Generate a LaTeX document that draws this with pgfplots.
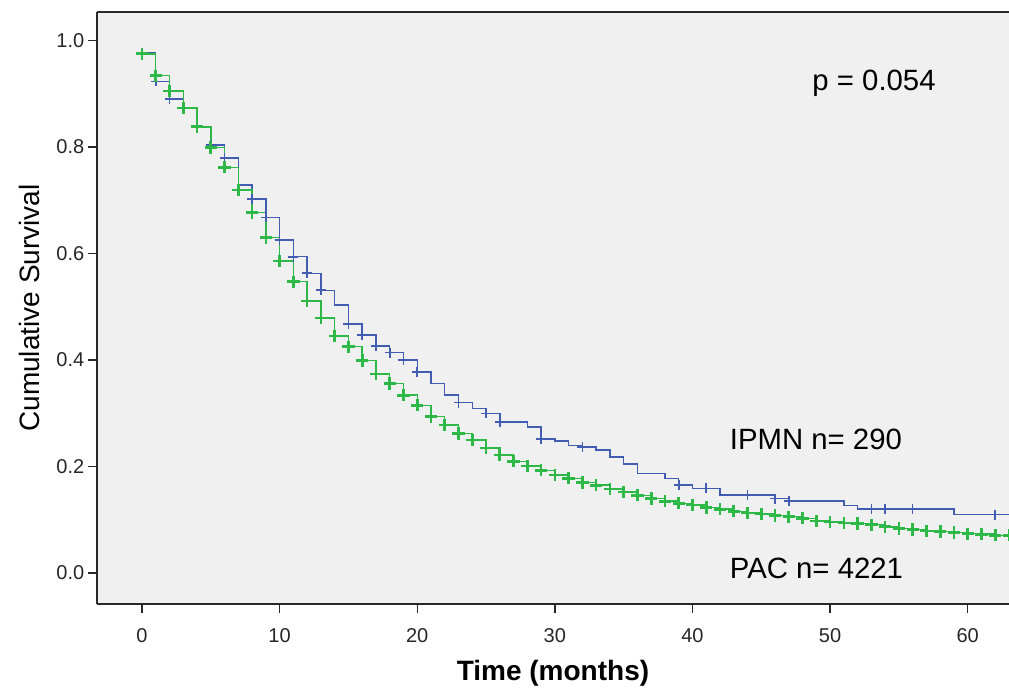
\documentclass[border=0pt]{standalone}
\usepackage{fontspec}
\setmainfont{Liberation Sans}
\usepackage{pgfplots}
\pgfplotsset{compat=1.18}
\usepackage{pgfplotstable}
\definecolor{bgc}{RGB}{240,240,240}
\definecolor{ipmn}{RGB}{66,92,178}
\definecolor{pac}{RGB}{46,184,72}
\definecolor{axc}{RGB}{40,40,40}

\pgfplotstableread{
t s
0 0.977
1 0.923
2 0.890
3 0.873
4 0.838
5 0.804
6 0.779
7 0.729
8 0.702
9 0.668
10 0.625
11 0.594
12 0.563
13 0.531
14 0.503
15 0.468
16 0.447
17 0.426
18 0.414
19 0.400
20 0.378
21 0.356
22 0.334
23 0.320
24 0.309
25 0.300
26 0.284
28 0.274
29 0.252
30 0.248
31 0.240
32 0.237
33 0.231
34 0.218
35 0.205
36 0.187
38 0.178
39 0.165
40 0.159
42 0.147
46 0.140
47 0.135
51 0.127
52 0.120
59 0.110
63 0.110
}\ipmntab

\pgfplotstableread{
t s
0 0.977
1 0.923
2 0.890
4 0.838
5 0.804
6 0.779
8 0.702
9 0.668
10 0.625
11 0.594
12 0.563
13 0.531
15 0.468
16 0.447
17 0.426
18 0.414
19 0.400
20 0.378
23 0.320
25 0.300
26 0.284
29 0.252
32 0.237
39 0.165
41 0.159
44 0.147
46 0.140
47 0.135
53 0.120
54 0.120
56 0.120
62 0.110
}\ipmncens

\pgfplotstableread{
t s
0 0.975
1 0.934
2 0.905
3 0.873
4 0.838
5 0.799
6 0.762
7 0.719
8 0.677
9 0.630
10 0.586
11 0.547
12 0.511
13 0.479
14 0.445
15 0.425
16 0.399
17 0.374
18 0.356
19 0.334
20 0.315
21 0.294
22 0.278
23 0.262
24 0.250
25 0.235
26 0.222
27 0.210
28 0.201
29 0.193
30 0.184
31 0.178
32 0.170
33 0.165
34 0.158
35 0.152
36 0.146
37 0.140
38 0.135
39 0.131
40 0.128
41 0.123
42 0.120
43 0.116
44 0.113
45 0.111
46 0.108
47 0.106
48 0.103
49 0.098
50 0.096
51 0.094
52 0.093
53 0.091
54 0.087
55 0.084
56 0.082
57 0.079
58 0.078
59 0.076
60 0.074
61 0.073
62 0.071
63 0.071
}\pactab

\begin{document}
\begin{tikzpicture}
\begin{axis}[
  name=ax,
  width=684pt, height=444pt, scale only axis,
  xmin=-3.27, xmax=63, ymin=-0.058, ymax=1.0535,
  axis background/.style={fill=bgc},
  axis x line*=bottom, axis y line*=left,
  axis line style={-, line width=1.2pt, draw=axc},
  xtick={0,10,20,30,40,50,60},
  ytick={0,0.2,0.4,0.6,0.8,1.0},
  tick align=outside,
  major tick length=7pt,
  tick style={line width=1pt, draw=axc},
  /pgf/number format/assume math mode=true,
  ticklabel style={font=\fontsize{15}{17}\selectfont, text=black!85},
  yticklabel style={xshift=1pt, /pgf/number format/.cd, fixed, fixed zerofill, precision=1},
  xticklabel style={yshift=-8pt},
  xlabel={Time (months)},
  xlabel style={font=\bfseries\fontsize{21}{24}\selectfont, at={(axis description cs:0.5,0)}, anchor=base, yshift=-57pt},
  ylabel={Cumulative Survival},
  ylabel style={font=\fontsize{21}{24}\selectfont, at={(axis description cs:-0.0625,0.5)}, anchor=base},
]
\addplot[const plot, color=ipmn, line width=1.1pt, mark=none] table[x=t, y=s] {\ipmntab};
\addplot[only marks, mark=+, mark size=3.75pt, color=ipmn, mark options={line width=1.2pt}] table[x=t, y=s] {\ipmncens};
\addplot[const plot, color=pac, line width=1.1pt, mark=none] table[x=t, y=s] {\pactab};
\addplot[only marks, mark=+, mark size=4.6pt, color=pac, mark options={line width=2pt}] table[x=t, y=s] {\pactab};
\node[anchor=base west, inner sep=0pt, font=\fontsize{22}{26}\selectfont] at (axis cs:48.7,0.907) {p = 0.054};
\node[anchor=base west, inner sep=0pt, font=\fontsize{22}{26}\selectfont] at (axis cs:42.7,0.233) {IPMN n= 290};
\node[anchor=base west, inner sep=0pt, font=\fontsize{22}{26}\selectfont] at (axis cs:42.7,-0.011) {PAC n= 4221};
\end{axis}
\draw[line width=1.2pt, draw=axc] (ax.north west) -- (ax.north east);
\pgfresetboundingbox
\path ([xshift=-72.75pt,yshift=-66pt]ax.south west) rectangle ([yshift=9pt]ax.north east);
\end{tikzpicture}
\end{document}
